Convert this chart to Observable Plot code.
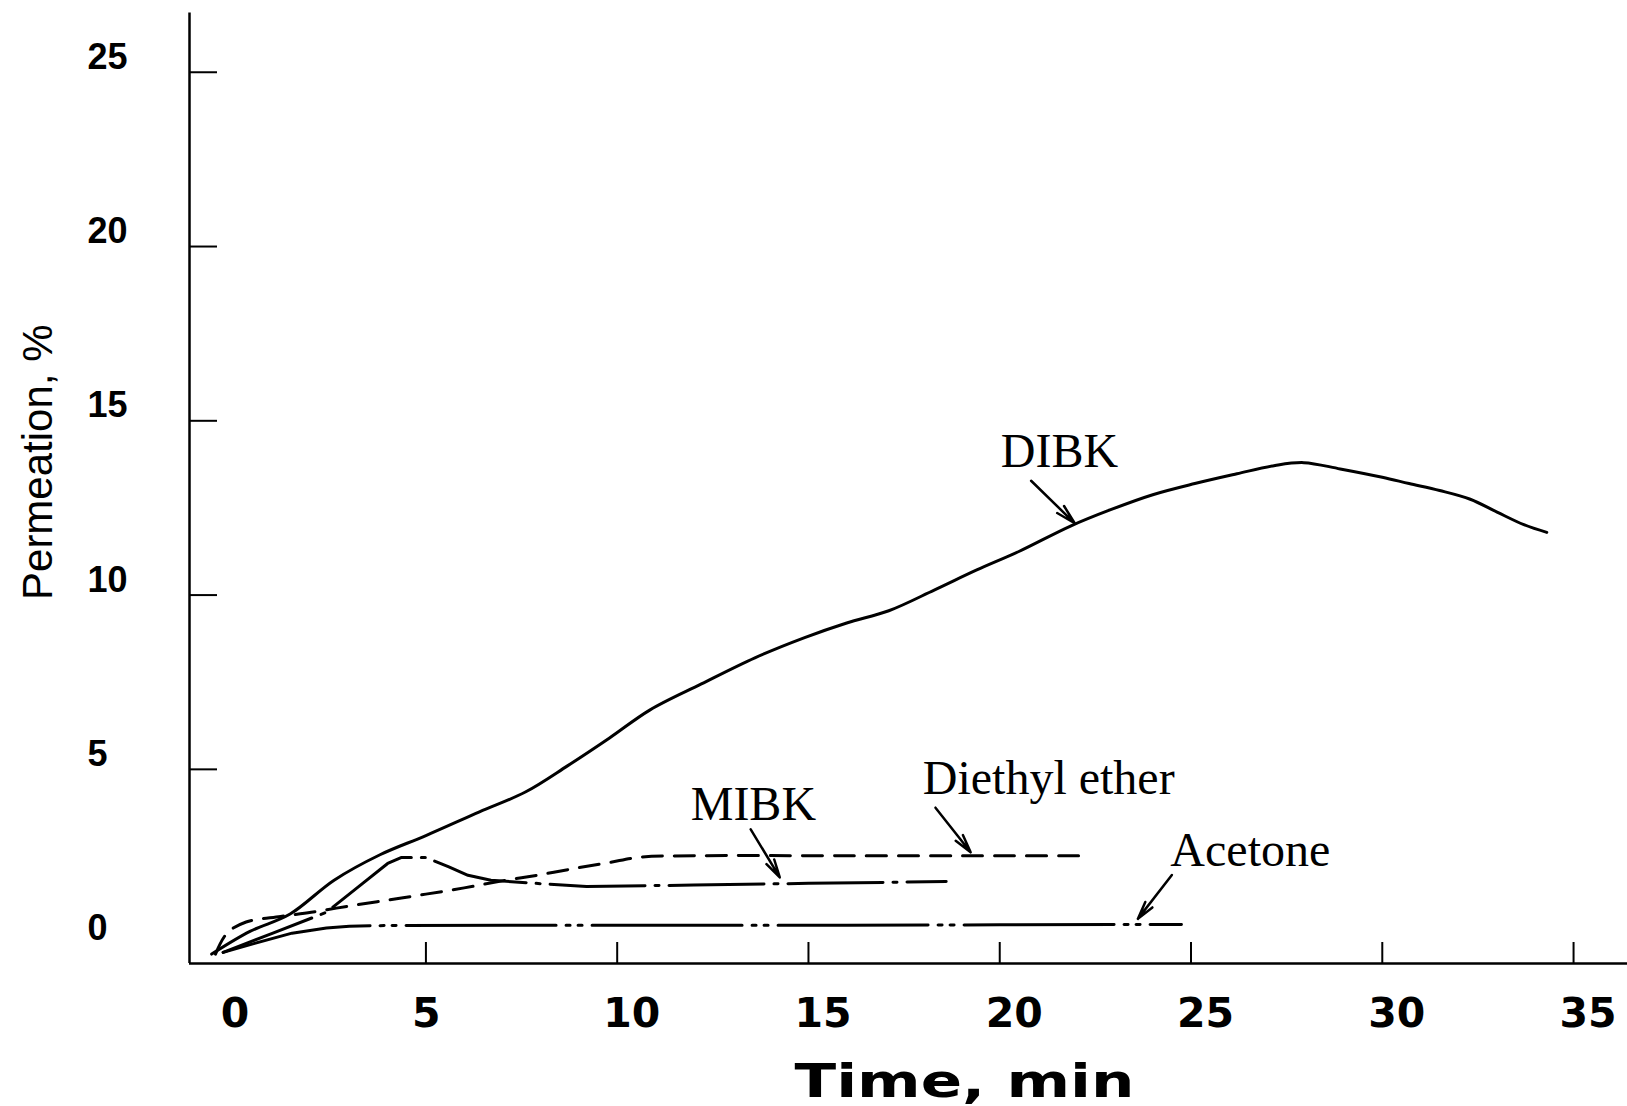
<!DOCTYPE html>
<html><head><meta charset="utf-8">
<script src="https://cdn.jsdelivr.net/npm/d3@7"></script>
<script src="https://cdn.jsdelivr.net/npm/@observablehq/plot@0.6"></script>
<style>body{margin:0;background:#fff} svg{display:block}</style>
</head><body><div id="chart"></div>
<script>
// ---- data ----
const xDomain = [-1.18, 36.41];
const yDomain = [-0.57, 26.7];
const xTicks = [5, 10, 15, 20, 25, 30, 35];
const xTickLabels = [0, 5, 10, 15, 20, 25, 30, 35];
const yTicks = [5, 10, 15, 20, 25];
const yTickLabels = [0, 5, 10, 15, 20, 25];
const xTitle = "Time, min";
const yTitle = "Permeation, %";

const dibkX = [-0.6, 0.4, 1.45, 2.6, 3.8, 5.0, 6.4, 7.6, 8.7, 9.8, 10.85, 12.2, 13.6, 14.9, 16.0, 17.1, 18.3, 19.4, 20.5, 21.85, 22.9, 24.0, 25.1, 26.2, 27.2, 27.95, 28.9, 30.0, 30.7, 31.5, 32.3, 33.0, 33.7, 34.3];
const dibkY = [-0.3, 0.35, 0.85, 1.82, 2.55, 3.1, 3.78, 4.35, 5.1, 5.9, 6.7, 7.45, 8.2, 8.78, 9.2, 9.55, 10.15, 10.72, 11.25, 11.98, 12.45, 12.88, 13.2, 13.48, 13.72, 13.8, 13.62, 13.38, 13.2, 13.0, 12.75, 12.38, 12.02, 11.8];

const etherX = [-0.5, -0.2, 0.3, 1.2, 2.0, 3.0, 4.0, 5.0, 6.0, 7.0, 8.0, 9.0, 9.8, 10.6, 12, 16, 20, 22.25];
const etherY = [-0.3, 0.3, 0.62, 0.78, 0.9, 1.08, 1.25, 1.42, 1.6, 1.8, 1.98, 2.18, 2.33, 2.48, 2.52, 2.52, 2.52, 2.52];

const mibkX = [-0.3, 1.0, 2.4, 3.2, 4.0, 4.35, 5.0, 5.6, 6.1, 6.7, 8.0, 9.2, 12, 15, 18.6];
const mibkY = [-0.25, 0.3, 0.9, 1.6, 2.3, 2.47, 2.47, 2.2, 1.96, 1.82, 1.72, 1.64, 1.68, 1.73, 1.78];

const acetoneX = [-0.3, 0.5, 1.5, 2.4, 3.0, 4.0, 8, 12, 16, 20, 24.75];
const acetoneY = [-0.25, 0.0, 0.3, 0.45, 0.5, 0.52, 0.53, 0.53, 0.53, 0.54, 0.55];

const labelNames = ["DIBK", "MIBK", "Diethyl ether", "Acetone"];
const labelX = [21.56, 13.56, 21.28, 26.55];
const labelY = [14.11, 4.0, 4.74, 2.67];

const arrowX1 = [20.82, 13.49, 18.32, 24.5];
const arrowY1 = [13.28, 3.28, 3.9, 1.97];
const arrowX2 = [21.96, 14.25, 19.24, 23.61];
const arrowY2 = [12.06, 1.9, 2.62, 0.71];

// ---- build tables ----
const rows = (xs, ys) => xs.map((x, i) => ({x, y: ys[i]}));
const dibk = rows(dibkX, dibkY);
const ether = rows(etherX, etherY);
const mibk = rows(mibkX, mibkY);
const acetone = rows(acetoneX, acetoneY);
const labels = labelNames.map((name, i) => ({name, x: labelX[i], y: labelY[i]}));
const arrows = arrowX1.map((x1, i) => ({x1, y1: arrowY1[i], x2: arrowX2[i], y2: arrowY2[i]}));

const chart = Plot.plot({
  width: 1627, height: 1106,
  marginLeft: 189, marginRight: 0, marginTop: 12.5, marginBottom: 143,
  x: {domain: xDomain},
  y: {domain: yDomain},
  style: {background: "white", color: "black", overflow: "visible"},
  marks: [
    Plot.ruleX([xDomain[0]], {stroke: "black", strokeWidth: 2.5}),
    Plot.ruleY([yDomain[0]], {stroke: "black", strokeWidth: 2.5}),
    Plot.axisX({ticks: xTicks, tickSize: -21, text: null, label: null, strokeWidth: 2}),
    Plot.axisY({ticks: yTicks, tickSize: -28, text: null, label: null, strokeWidth: 2}),
    Plot.text(xTickLabels, {x: d => d, text: d => String(d), frameAnchor: "bottom", lineAnchor: "middle", dy: 50, dx: -14, textAnchor: "start",
      fontFamily: "DejaVu Sans", fontWeight: "bold", fontSize: 41, fill: "black"}),
    Plot.text(yTickLabels, {y: d => d, text: d => String(d), frameAnchor: "left", lineAnchor: "middle", dx: -102, dy: -15, textAnchor: "start",
      fontFamily: "Liberation Sans", fontWeight: "bold", fontSize: 36, fill: "black"}),
    Plot.text([xTitle], {text: d => d, frameAnchor: "bottom", lineAnchor: "middle", textAnchor: "middle", dx: 56, dy: 118,
      fontFamily: "DejaVu Sans", fontWeight: "bold", fontSize: 47, fill: "black"}),
    Plot.text([yTitle], {text: d => d, frameAnchor: "left", lineAnchor: "middle", textAnchor: "middle", dx: -151, dy: -26, rotate: -90,
      fontFamily: "Liberation Sans", fontSize: 42, fill: "black"}),
    Plot.line(acetone, {x: "x", y: "y", stroke: "black", strokeWidth: 3, strokeDasharray: "150,10,4,8,4,10"}),
    Plot.line(mibk, {x: "x", y: "y", stroke: "black", strokeWidth: 3, strokeDasharray: "95,10,4,10"}),
    Plot.line(ether, {x: "x", y: "y", stroke: "black", strokeWidth: 3, strokeDasharray: "20,12", curve: "catmull-rom"}),
    Plot.line(dibk, {x: "x", y: "y", stroke: "black", strokeWidth: 3, curve: "catmull-rom"}),
    Plot.arrow(arrows, {x1: "x1", y1: "y1", x2: "x2", y2: "y2", stroke: "black", strokeWidth: 2.5, headLength: 18, headAngle: 28}),
    Plot.text(labels, {x: "x", y: "y", text: "name", fontFamily: "Liberation Serif", fontSize: 48, fill: "black"})
  ]
});
document.getElementById("chart").appendChild(chart);
d3.select(chart).selectAll("text")
  .filter(function() { return this.textContent === xTitle; })
  .attr("textLength", 340).attr("lengthAdjust", "spacingAndGlyphs");
</script>
</body></html>
